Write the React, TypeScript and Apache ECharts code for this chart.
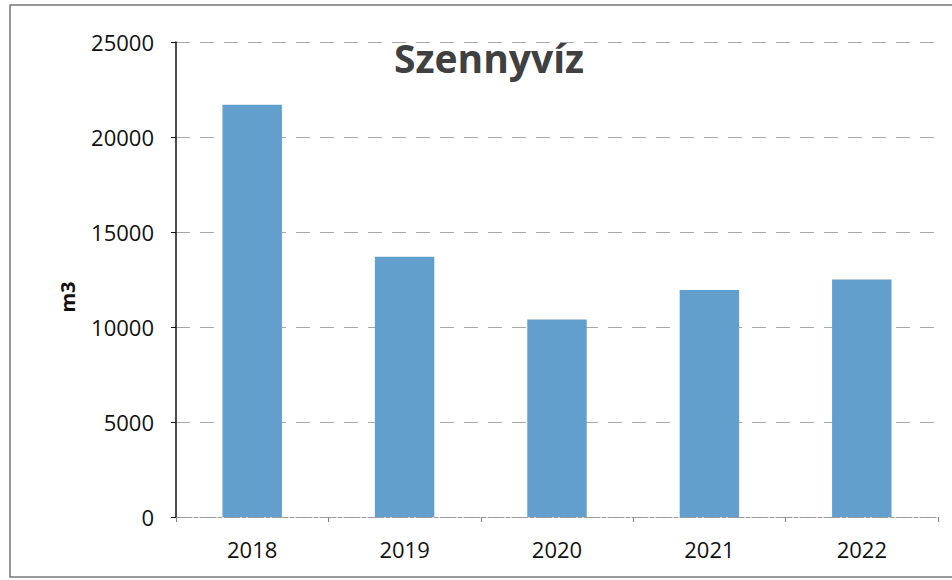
import React, { useEffect, useRef } from "react";
import * as echarts from "echarts";

const categories = ["2018", "2019", "2020", "2021", "2022"];
const values = [21700, 13700, 10400, 11950, 12500];
const yTicks = [0, 5000, 10000, 15000, 20000, 25000];
const titleText = "Szennyvíz";
const yName = "m3";

export default function App() {
  const ref = useRef<HTMLDivElement>(null);
  useEffect(() => {
    if (!ref.current) return;
    const chart = echarts.init(ref.current, undefined, { renderer: "svg" });
    const font = "'Open Sans', 'Noto Sans', sans-serif";
    chart.setOption({
      animation: false,
      backgroundColor: "#ffffff",
      title: {
        text: titleText,
        left: 484,
        top: 33,
        textAlign: "center",
        textStyle: { fontFamily: font, fontSize: 39, fontWeight: "bold", color: "#404040" },
      },
      grid: { left: 176, right: 14, top: 42, bottom: 63 },
      xAxis: {
        type: "category",
        data: categories,
        axisLine: { show: true, lineStyle: { color: "#999", type: "dashed", width: 1 } },
        axisTick: { show: true, length: 5, lineStyle: { color: "#888" } },
        axisLabel: { fontFamily: font, fontSize: 22, color: "#111", margin: 21 },
      },
      yAxis: {
        type: "value",
        min: yTicks[0],
        max: yTicks[yTicks.length - 1],
        interval: yTicks[1] - yTicks[0],
        axisLine: { show: true, lineStyle: { color: "#111", width: 1.5 } },
        axisTick: { show: true, length: 5, lineStyle: { color: "#111" } },
        axisLabel: {
          fontFamily: font,
          fontSize: 22,
          color: "#111",
          margin: 22,
          formatter: (v: number) => String(v),
        },
        splitLine: { show: true, lineStyle: { color: "#a8a8a8", type: [14, 10], width: 1 } },
      },
      series: [
        {
          type: "bar",
          data: values,
          barWidth: "39%",
          itemStyle: { color: "#629fcd" },
        },
      ],
      graphic: [
        {
          type: "rect",
          shape: { x: 10, y: 5, width: 952, height: 572 },
          style: { fill: "none", stroke: "#777", lineWidth: 1.5 },
          silent: true,
        },
        {
          type: "text",
          x: 67,
          y: 297,
          rotation: Math.PI / 2,
          style: {
            text: yName,
            fontFamily: font,
            fontSize: 20,
            fontWeight: "bold",
            fill: "#111",
            align: "center",
            verticalAlign: "middle",
          },
          silent: true,
        },
      ],
    });
    return () => chart.dispose();
  }, []);
  return (
    <div
      ref={ref}
      style={{ position: "fixed", left: 0, top: 0, width: 952, height: 580 }}
    />
  );
}
